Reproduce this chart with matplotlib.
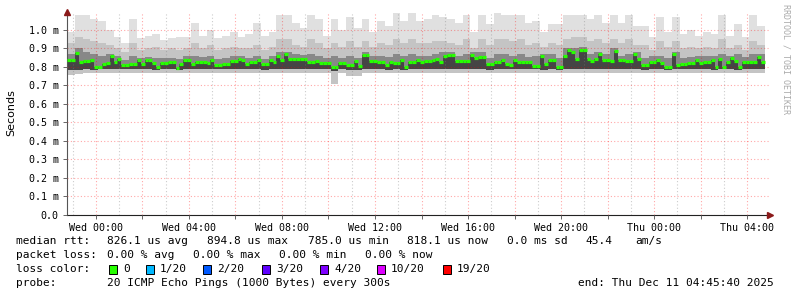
import numpy as np
import pandas as pd
import matplotlib
matplotlib.use('Agg')
import matplotlib.pyplot as plt
import matplotlib.dates as mdates
from matplotlib.ticker import MultipleLocator, FuncFormatter

# smokeping data, values in ms
start = pd.Timestamp('2025-12-09 22:45:40')

# median rtt, 10 minute steps
median = [.835, .838, .877, .825, .83, .83, .84, .80, .80, .815, .82, .86, .825, .845, .81, .81,
          .815, .815, .835, .815, .835, .835, .822, .80, .82, .82, .828, .828, .797, .815, .84, .84,
          .815, .825, .825, .825, .82, .84, .81, .81, .818, .818, .832, .832, .845, .838,
          .815, .825, .825, .84, .815, .815, .838, .825, .86, .838, .868, .843, .843, .843,
          .843, .843, .825, .825, .83, .82, .82, .82, .80, .80, .82, .82, .81, .81, .83, .805,
          .865, .865, .83, .83, .825, .825, .81, .825, .822, .822, .835, .80, .825, .825,
          .835, .825, .83, .83, .835, .845, .825, .86, .865, .865, .832, .832, .832, .832,
          .865, .85, .855, .855, .815, .815, .828, .828, .84, .815, .81, .84, .825, .825,
          .825, .825, .805, .805, .86, .815, .84, .84, .80, .80, .86, .894, .88, .845, .894, .894,
          .845, .83,
          .843, .87, .835, .835, .83, .886, .835, .835, .83, .83, .87, .845, .81, .81, .825, .825,
          .835, .82, .80, .80, .87, .81, .815, .815, .82, .82, .835, .82, .825, .825, .84, .80,
          .845, .80, .825, .85, .832, .80, .825, .825, .828, .828, .855, .828]

# smoke envelope, 20 minute steps
hi = [0.99, 1.08, 1.08, 1.06, 1.05, 1.00, 0.96, 0.93, 1.06, 0.955, 0.97, 0.98, 0.945, 0.955, 0.96, 0.96,
      1.035, 0.97, 1.00, 0.955, 0.97, 0.99, 0.96,
      0.98, 1.04, 0.97, 0.99, 1.08, 1.08, 1.04, 1.01, 1.08, 1.06, 0.97, 1.06, 1.00, 1.07, 1.01, 1.06,
      0.99, 1.05, 1.02, 1.09, 1.05, 1.09,
      1.05, 1.06, 1.08, 1.07, 1.06, 1.04, 1.08, 0.99, 1.08, 1.03, 1.09, 1.08, 1.08, 1.08, 1.04, 1.05,
      0.99, 1.03, 1.03, 1.08, 1.08, 1.08, 1.06,
      1.08, 1.04, 1.08, 1.04, 1.08, 1.02, 1.02, 0.96, 1.07, 0.99, 1.07, 0.98, 1.00, 0.97, 0.99, 0.98,
      1.08, 0.97, 1.03, 0.96, 1.08, 1.02]
hi_mid = [0.93, 0.96, 0.95, 0.94, 0.93, 0.92, 0.90, 0.88, 0.93, 0.89, 0.90, 0.91, 0.89, 0.90, 0.89, 0.90,
          0.93, 0.90, 0.92, 0.89, 0.90, 0.91, 0.90,
          0.90, 0.92, 0.89, 0.91, 0.95, 0.95, 0.92, 0.91, 0.95, 0.93, 0.90, 0.93, 0.91, 0.94, 0.91, 0.94,
          0.91, 0.93, 0.92, 0.95, 0.93, 0.95,
          0.93, 0.93, 0.94, 0.94, 0.93, 0.92, 0.95, 0.90, 0.95, 0.92, 0.95, 0.95, 0.94, 0.95, 0.92, 0.93,
          0.91, 0.93, 0.92, 0.95, 0.96, 0.96, 0.94,
          0.95, 0.93, 0.95, 0.93, 0.95, 0.92, 0.92, 0.89, 0.94, 0.91, 0.94, 0.90, 0.91, 0.90, 0.91, 0.90,
          0.95, 0.90, 0.92, 0.89, 0.94, 0.92]
hi_dark = [0.87, 0.90, 0.88, 0.87, 0.86, 0.87, 0.86, 0.84, 0.86, 0.85, 0.855, 0.85, 0.85, 0.85, 0.845, 0.86,
           0.86, 0.855, 0.86, 0.845, 0.85, 0.86, 0.86,
           0.85, 0.86, 0.845, 0.86, 0.88, 0.88, 0.87, 0.865, 0.87, 0.86, 0.85, 0.86, 0.85, 0.86, 0.85, 0.88,
           0.86, 0.86, 0.855, 0.87, 0.86, 0.87,
           0.86, 0.86, 0.87, 0.88, 0.88, 0.86, 0.87, 0.88, 0.88, 0.85, 0.87, 0.87, 0.86, 0.87, 0.855, 0.86,
           0.87, 0.87, 0.85, 0.90, 0.90, 0.91, 0.87,
           0.88, 0.87, 0.90, 0.86, 0.87, 0.88, 0.85, 0.86, 0.86, 0.85, 0.88, 0.85, 0.855, 0.86, 0.86, 0.86,
           0.87, 0.86, 0.87, 0.855, 0.87, 0.87]
lo = [0.755, 0.76, 0.765, 0.765, 0.77, 0.77, 0.77, 0.765, 0.77, 0.77, 0.77, 0.77, 0.77, 0.765, 0.765, 0.77,
      0.77, 0.77, 0.77, 0.765, 0.77, 0.77, 0.77,
      0.77, 0.77, 0.765, 0.77, 0.77, 0.77, 0.77, 0.77, 0.765, 0.77, 0.77, 0.71, 0.765, 0.75, 0.75, 0.77,
      0.77, 0.77, 0.77, 0.77, 0.77, 0.77,
      0.77, 0.77, 0.765, 0.77, 0.77, 0.77, 0.77, 0.765, 0.77, 0.765, 0.77, 0.77, 0.77, 0.77, 0.765, 0.77,
      0.77, 0.77, 0.765, 0.77, 0.77, 0.77, 0.77,
      0.77, 0.77, 0.765, 0.77, 0.77, 0.77, 0.765, 0.77, 0.77, 0.77, 0.765, 0.77, 0.77, 0.77, 0.77, 0.765,
      0.77, 0.77, 0.77, 0.765, 0.77, 0.77]
lo_dark = [0.785, 0.785, 0.79, 0.785, 0.79, 0.79, 0.79, 0.79, 0.79, 0.79, 0.79, 0.785, 0.79, 0.79, 0.785, 0.79,
           0.79, 0.79, 0.79, 0.79, 0.79, 0.79, 0.79,
           0.79, 0.79, 0.785, 0.79, 0.79, 0.79, 0.79, 0.79, 0.79, 0.79, 0.79, 0.78, 0.79, 0.785, 0.785, 0.79,
           0.79, 0.79, 0.785, 0.79, 0.785, 0.79,
           0.79, 0.79, 0.79, 0.79, 0.79, 0.79, 0.79, 0.79, 0.79, 0.785, 0.79, 0.79, 0.79, 0.79, 0.79, 0.79,
           0.785, 0.79, 0.785, 0.79, 0.79, 0.79, 0.79,
           0.79, 0.79, 0.79, 0.79, 0.79, 0.79, 0.785, 0.79, 0.79, 0.785, 0.79, 0.79, 0.79, 0.79, 0.79, 0.785,
           0.79, 0.79, 0.785, 0.79, 0.79, 0.79]

loss_labels = ['0', '1/20', '2/20', '3/20', '4/20', '10/20', '19/20']
loss_colors = ['#26ff00', '#00b8ff', '#0059ff', '#5e00ff', '#7e00ff', '#dd00ff', '#ff0000']

W, H = 797, 297
fig = plt.figure(figsize=(W / 100, H / 100), dpi=100)
ax = fig.add_axes([67 / W, (H - 215) / H, (770 - 67) / W, (215 - 12) / H])

e20 = mdates.date2num(pd.date_range(start, periods=len(hi) + 1, freq='20min').to_pydatetime())
e10 = mdates.date2num(pd.date_range(start, periods=len(median) + 1, freq='10min').to_pydatetime())

# smoke layers (grid goes on top, semi transparent like rrdtool)
ax.stairs(hi, e20, baseline=lo, fill=True, color='#e0e0e0', zorder=1.1)
ax.stairs(hi_mid, e20, baseline=lo, fill=True, color='#c4c4c4', zorder=1.2)
ax.stairs(hi_dark, e20, baseline=lo_dark, fill=True, color='#888888', zorder=1.3)
ax.stairs(median, e10, baseline=np.repeat(lo_dark, 2), fill=True, color='#454545', zorder=1.4)

# median line
ax.hlines(median, e10[:-1], e10[1:], color=loss_colors[0], lw=2.3, zorder=4)

x_end = e20[-1] + (770 - 765) / 23.25 / 24
ax.set_xlim(e20[0], x_end)
ax.set_ylim(0, 1.097)

# grid
ax.xaxis.set_major_locator(mdates.HourLocator(byhour=range(0, 24, 2)))
ax.xaxis.set_minor_locator(mdates.HourLocator())
ax.xaxis.set_major_formatter(FuncFormatter(
    lambda v, p: mdates.num2date(v).strftime('%a %H:%M') if mdates.num2date(v).hour % 4 == 0 else ''))
ax.yaxis.set_major_locator(MultipleLocator(0.1))
ax.yaxis.set_major_formatter(FuncFormatter(lambda v, p: '0.0' if abs(v) < 1e-9 else '%.1f m' % v))

ax.set_axisbelow(False)
ax.grid(which='major', color='#ff0000', alpha=0.35, ls=(0, (1, 2)), lw=0.8)
ax.grid(which='minor', axis='x', color='#808080', alpha=0.4, ls=(0, (1, 2)), lw=0.8)

for s in ['top', 'right']:
    ax.spines[s].set_visible(False)
ax.spines['left'].set_color('#555555')
ax.spines['bottom'].set_color('#222222')

ax.tick_params(which='both', labelsize=7.2, length=3, width=0.7, color='#666666', pad=3)
ax.tick_params(which='minor', length=0)
for lab in ax.get_xticklabels() + ax.get_yticklabels():
    lab.set_family('DejaVu Sans Mono')

# arrows on axes
ax.plot([0], [1.0], marker='^', color='#8b1a1a', ms=4, transform=ax.transAxes, clip_on=False, zorder=10)
ax.plot([1.0], [0], marker='>', color='#8b1a1a', ms=4, transform=ax.transAxes, clip_on=False, zorder=10)

fig.text(11 / W, 1 - 113 / H, 'Seconds', rotation=90, va='center', ha='center', fontsize=8,
         family='DejaVu Sans')
fig.text(786 / W, 1 - 4 / H, 'RRDTOOL / TOBI OETIKER', rotation=270, va='top', ha='center',
         fontsize=6, family='DejaVu Sans Mono', color='#aaaaaa')

mono = dict(fontsize=8, family='DejaVu Sans Mono', va='center')


def txt(x, y, s, **kw):
    fig.text(x / W, 1 - y / H, s, **mono, **kw)


# legend lines
y1, y2, y3, y4 = 241, 255, 269, 283
txt(16, y1, 'median rtt:')
for x, s in zip([107, 207, 308, 407, 507, 585, 635],
                ['826.1 us avg', '894.8 us max', '785.0 us min', '818.1 us now', '0.0 ms sd',
                 '45.4', 'am/s']):
    txt(x, y1, s)
txt(16, y2, 'packet loss:')
for x, s in zip([107, 193, 279, 365], ['0.00 % avg', '0.00 % max', '0.00 % min', '0.00 % now']):
    txt(x, y2, s)
txt(16, y3, 'loss color:')
for bx, lab, c in zip([109, 146, 203, 262, 320, 377, 443], loss_labels, loss_colors):
    fig.patches.append(plt.Rectangle((bx / W, 1 - (y3 + 4.5) / H), 8 / W, 9 / H, transform=fig.transFigure,
                                     facecolor=c, edgecolor='black', lw=0.7))
    txt(bx + 14, y3, lab)
txt(16, y4, 'probe:')
txt(107, y4, '20 ICMP Echo Pings (1000 Bytes) every 300s')
txt(578, y4, 'end: Thu Dec 11 04:45:40 2025')

fig.savefig('out.png', dpi=100)
